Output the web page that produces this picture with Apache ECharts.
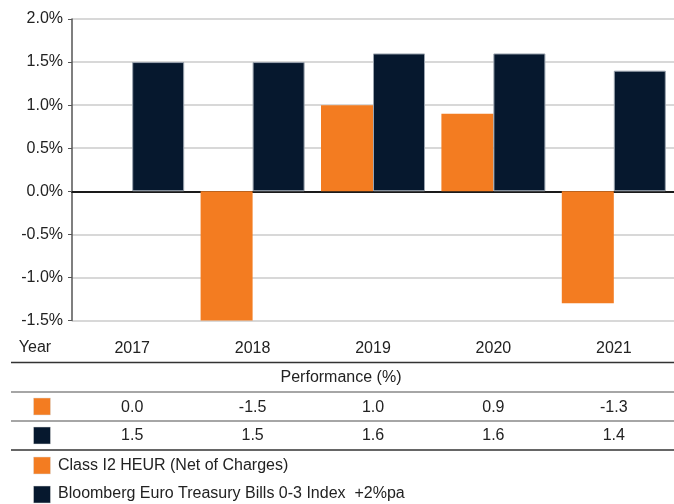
<!DOCTYPE html>
<html>
<head>
<meta charset="utf-8">
<script src="https://cdn.jsdelivr.net/npm/echarts@6/dist/echarts.min.js"></script>
<style>
  html, body { margin: 0; padding: 0; background: #fff; }
  #chart { width: 674px; height: 504px; }
</style>
</head>
<body>
<div id="chart"></div>
<script>
// --- DATA ---
const years = ['2017', '2018', '2019', '2020', '2021'];
const fundValues = [0.0, -1.5, 1.0, 0.9, -1.3];
const indexValues = [1.5, 1.5, 1.6, 1.6, 1.4];
const fundName = 'Class I2 HEUR (Net of Charges)';
const indexName = 'Bloomberg Euro Treasury Bills 0-3 Index  +2%pa';
const tableTitle = 'Performance (%)';
const yearLabel = 'Year';

const ORANGE = '#F37C21';
const NAVY = '#06182E';
const FONT = '"Liberation Sans", Arial, sans-serif';
const TEXT = '#222';

const chart = echarts.init(document.getElementById('chart'));

const option = {
    animation: false,
    grid: { left: 72, top: 19, width: 605, height: 301.5 },
    xAxis: [
        {
            type: 'category', data: years,
            axisLine: { show: false, onZero: false }, axisTick: { show: false },
            axisLabel: { margin: 20, fontSize: 16, color: TEXT, fontFamily: FONT }
        },
        {
            // zero line
            type: 'category', data: years, position: 'bottom',
            axisLine: { onZero: true, lineStyle: { color: '#1a1a1a', width: 2 } },
            axisTick: { show: false }, axisLabel: { show: false }
        }
    ],
    yAxis: {
        type: 'value', min: -1.5, max: 2.0, interval: 0.5,
        axisLine: { show: true, lineStyle: { color: '#555', width: 1.5 } },
        axisTick: { show: true, length: 4, lineStyle: { color: '#555' } },
        splitLine: { lineStyle: { color: '#cbcbcb', width: 1.5 } },
        axisLabel: {
            margin: 9, fontSize: 16, color: TEXT, fontFamily: FONT,
            formatter: v => v.toFixed(1) + '%'
        }
    },
    series: [
        {
            name: fundName, type: 'bar', data: fundValues, barWidth: 52, barGap: '0%',
            itemStyle: { color: ORANGE }
        },
        {
            name: indexName, type: 'bar', data: indexValues, barWidth: 52,
            itemStyle: { color: NAVY, borderColor: '#9aa3ae', borderWidth: 1 }
        }
    ]
};
chart.setOption(option);

// --- TABLE BELOW THE CHART ---
const colX = years.map(y => chart.convertToPixel({ xAxisIndex: 0 }, y));
const txt = (text, x, y, align) => ({
    type: 'text', x, y,
    style: { text, fill: TEXT, font: '16px ' + FONT, align: align || 'center', verticalAlign: 'middle' }
});
const hline = (y, color, w) => ({
    type: 'line', shape: { x1: 11, y1: y, x2: 674, y2: y }, style: { stroke: color, lineWidth: w }
});
const square = (x, y, color) => ({
    type: 'rect', shape: { x, y, width: 17, height: 17 }, style: { fill: color, stroke: '#ddd', lineWidth: 0.5 }
});

const graphics = [
    txt(yearLabel, 35, 348, 'center'),
    hline(362.5, '#333', 1.5),
    txt(tableTitle, 341, 378, 'center'),
    hline(392, '#888', 1.5),
    square(33.5, 398, ORANGE),
    hline(421, '#888', 1.5),
    square(33.5, 427, NAVY),
    hline(450, '#333', 1.5),
    square(33.5, 457, ORANGE),
    txt(fundName, 58, 466, 'left'),
    square(33.5, 486, NAVY),
    txt(indexName, 58, 494, 'left')
];
fundValues.forEach((v, i) => graphics.push(txt(v.toFixed(1), colX[i], 407.5, 'center')));
indexValues.forEach((v, i) => graphics.push(txt(v.toFixed(1), colX[i], 436, 'center')));

chart.setOption({ graphic: { elements: graphics } });
</script>
</body>
</html>
